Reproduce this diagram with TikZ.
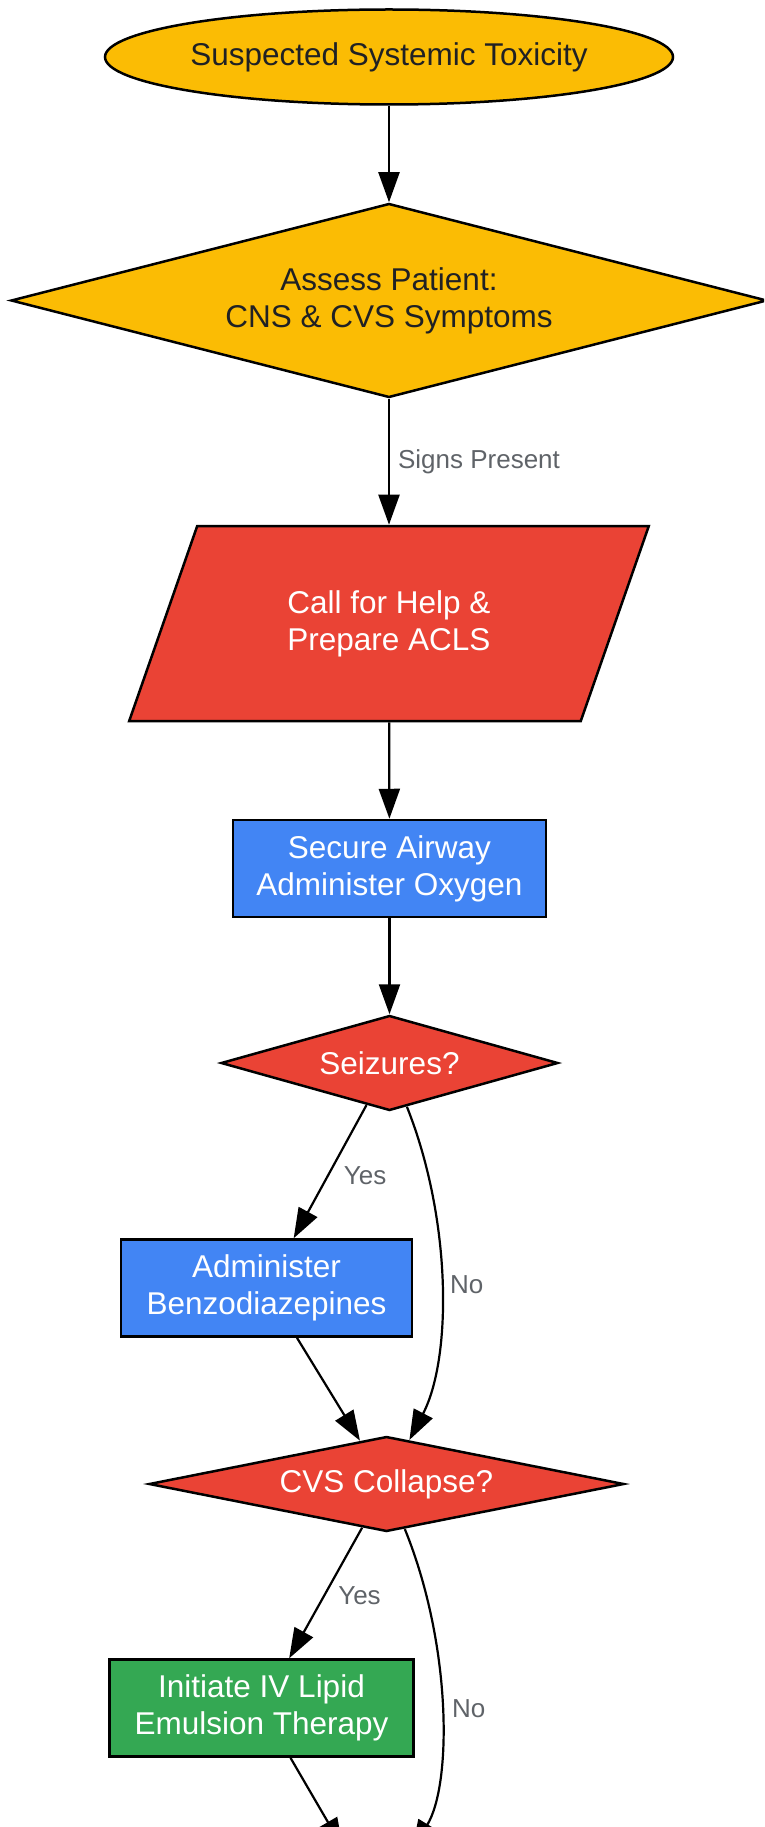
\documentclass[tikz,border=0pt]{standalone}
\usepackage{fontspec}
\setmainfont{Liberation Sans}
\usetikzlibrary{shapes.geometric, arrows.meta}
\definecolor{gYellow}{HTML}{FBBC04}
\definecolor{gRed}{HTML}{EA4335}
\definecolor{gBlue}{HTML}{4285F4}
\definecolor{gGreen}{HTML}{34A853}
\definecolor{gText}{HTML}{202124}
\definecolor{gGrey}{HTML}{5F6368}
\tikzstyle{baseStyle}=[draw = black, line width = 2.5pt, align = center, inner sep = 0pt, font = \fontsize{31.5}{37}\selectfont]

\begin{document}
\begin{tikzpicture}[x = 1pt, y = -1pt]
\tikzstyle{startStyle}=[baseStyle, shape = ellipse, fill = gYellow, text = gText]
\tikzstyle{decisionStyle}=[baseStyle, shape = diamond]
\tikzstyle{ioStyle}=[baseStyle, shape = trapezium, trapezium left angle = 61.5, trapezium right angle = 118.5, trapezium stretches = true, fill = gRed, text = white]
\tikzstyle{actionStyle}=[baseStyle, shape = rectangle, minimum height = 97pt, text = white]
\tikzstyle{edgeStyle}=[draw, line width = 2.2pt, -{Triangle[length = 30pt, width = 21pt]}]
\tikzstyle{labelStyle}=[text = gGrey, font = \fontsize{26}{30}\selectfont, inner sep = 0pt, anchor = west]
\useasboundingbox (0,0) rectangle (764,1827);
\clip (0,0) rectangle (764,1827);
\node[startStyle, minimum width = 568pt, minimum height = 95pt] (v0) at (389,57) {Suspected Systemic Toxicity};
\node[decisionStyle, fill = gYellow, text = gText, shape aspect = 3.9, minimum width = 756pt, minimum height = 194pt] (v1) at (389,300.5) {Assess Patient:\\CNS \& CVS Symptoms};
\node[ioStyle, minimum width = 520pt, minimum height = 195pt] (v2) at (389,623.5) {Call for Help \&\\Prepare ACLS};
\node[actionStyle, fill = gBlue, minimum width = 313pt] (v3) at (389.5,868.5) {Secure Airway\\Administer Oxygen};
\node[decisionStyle, fill = gRed, text = white, shape aspect = 3.55, minimum width = 337pt, minimum height = 95pt] (v4) at (389.5,1063) {Seizures?};
\node[actionStyle, fill = gBlue, minimum width = 291pt] (v5) at (266.5,1288) {Administer\\Benzodiazepines};
\node[decisionStyle, fill = gRed, text = white, shape aspect = 5, minimum width = 475pt, minimum height = 95pt] (v6) at (386.5,1484) {CVS Collapse?};
\node[actionStyle, fill = gGreen, minimum width = 304pt] (v7) at (261.5,1708) {Initiate IV Lipid\\Emulsion Therapy};
\coordinate (v8) at (343,1848);
\coordinate (v9) at (412,1850);
\draw[edgeStyle] (v0) -- (v1);
\draw[edgeStyle] (v1) -- node[labelStyle, xshift = 8pt] {Signs Present} (v2);
\draw[edgeStyle] (v2) -- (v3);
\draw[edgeStyle] (v3) -- (v4);
\draw[edgeStyle] (v4) -- node[labelStyle, pos = 0.53, xshift = 15pt] {Yes} (v5);
\draw[edgeStyle] (v4) .. controls (452,1220) and (452,1358) .. node[labelStyle, xshift = 8pt] {No} (v6);
\draw[edgeStyle] (v5) -- (v6);
\draw[edgeStyle] (v6) -- node[labelStyle, pos = 0.52, xshift = 13pt] {Yes} (v7);
\draw[edgeStyle] (v6) .. controls (452,1645) and (452,1784) .. node[labelStyle, xshift = 10pt] {No} (v9);
\draw[edgeStyle] (v7) -- (v8);
\end{tikzpicture}
\end{document}
